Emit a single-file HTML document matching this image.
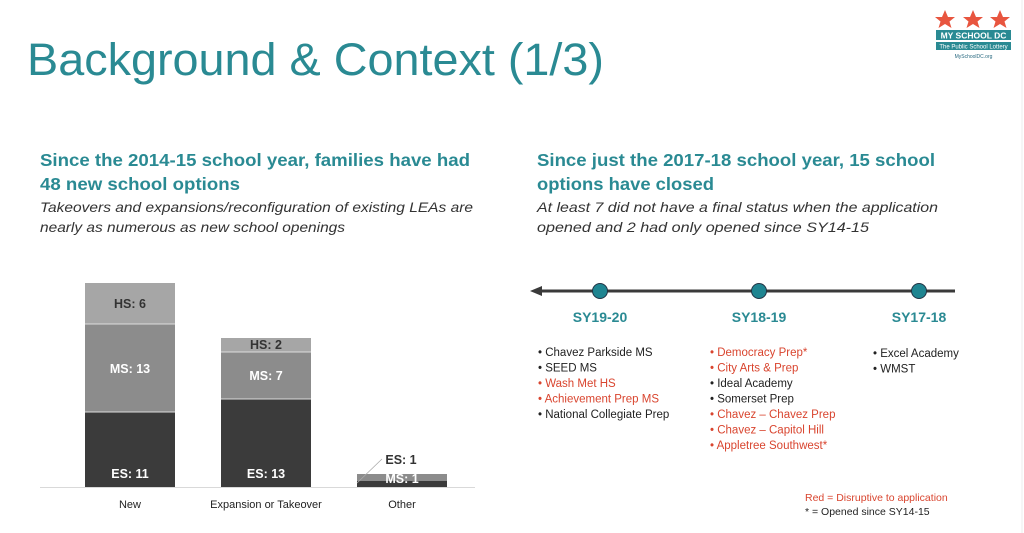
<!DOCTYPE html>
<html><head><meta charset="utf-8"><style>
html,body{margin:0;padding:0;background:#fff;width:1024px;height:533px;overflow:hidden}
svg{display:block}
text{font-family:"Liberation Sans",sans-serif}
</style></head><body>
<svg width="1024" height="533" viewBox="0 0 1024 533" xmlns="http://www.w3.org/2000/svg">
<rect width="1024" height="533" fill="#fff"/>
<line x1="1022" y1="0" x2="1022" y2="533" stroke="#eee" stroke-width="1"/>
<text x="27" y="75" font-size="45" fill="#2a8a93" textLength="577" lengthAdjust="spacingAndGlyphs">Background &amp; Context (1/3)</text>

<g fill="#e8553f">
<polygon points="945,10 948,17 955,17 949.5,21.5 951.5,28 945,24 938.5,28 940.5,21.5 935,17 942,17"/>
<polygon points="973,10 976,17 983,17 977.5,21.5 979.5,28 973,24 966.5,28 968.5,21.5 963,17 970,17"/>
<polygon points="1000,10 1003,17 1010,17 1004.5,21.5 1006.5,28 1000,24 993.5,28 995.5,21.5 990,17 997,17"/>
</g>
<rect x="936" y="30" width="75" height="10" fill="#2a8a93"/>
<text x="973.5" y="38.5" font-size="8.5" font-weight="bold" fill="#fff" text-anchor="middle">MY SCHOOL DC</text>
<rect x="936" y="42" width="75" height="8" fill="#2a8a93"/>
<text x="973.5" y="48.5" font-size="6" fill="#fff" text-anchor="middle">The Public School Lottery</text>
<text x="973.5" y="58" font-size="5" fill="#2a6a80" text-anchor="middle">MySchoolDC.org</text>

<g font-weight="bold" font-size="17.5" fill="#2a8a93">
<text x="40" y="166" textLength="430" lengthAdjust="spacingAndGlyphs">Since the 2014-15 school year, families have had</text>
<text x="40" y="190" textLength="200" lengthAdjust="spacingAndGlyphs">48 new school options</text>
<text x="537" y="166" textLength="398" lengthAdjust="spacingAndGlyphs">Since just the 2017-18 school year, 15 school</text>
<text x="537" y="190" textLength="177" lengthAdjust="spacingAndGlyphs">options have closed</text>
</g>
<g font-style="italic" font-size="14" fill="#333">
<text x="40" y="212" textLength="433" lengthAdjust="spacingAndGlyphs">Takeovers and expansions/reconfiguration of existing LEAs are</text>
<text x="40" y="232" textLength="305" lengthAdjust="spacingAndGlyphs">nearly as numerous as new school openings</text>
<text x="537" y="212" textLength="401" lengthAdjust="spacingAndGlyphs">At least 7 did not have a final status when the application</text>
<text x="537" y="232" textLength="332" lengthAdjust="spacingAndGlyphs">opened and 2 had only opened since SY14-15</text>
</g>

<rect x="85" y="283" width="90" height="41" fill="#a6a6a6"/>
<rect x="85" y="324" width="90" height="88" fill="#8c8c8c"/>
<rect x="85" y="412" width="90" height="75" fill="#3b3b3b"/>
<line x1="85" y1="324" x2="175" y2="324" stroke="#ddd" stroke-width="1"/>
<line x1="85" y1="412" x2="175" y2="412" stroke="#ddd" stroke-width="1"/>
<rect x="221" y="338" width="90" height="14" fill="#a6a6a6"/>
<rect x="221" y="352" width="90" height="47" fill="#8c8c8c"/>
<rect x="221" y="399" width="90" height="88" fill="#3b3b3b"/>
<line x1="221" y1="352" x2="311" y2="352" stroke="#ddd" stroke-width="1"/>
<line x1="221" y1="399" x2="311" y2="399" stroke="#ddd" stroke-width="1"/>
<rect x="357" y="474" width="90" height="7" fill="#8c8c8c"/>
<rect x="357" y="481" width="90" height="6" fill="#3b3b3b"/>
<line x1="40" y1="487.5" x2="475" y2="487.5" stroke="#d9d9d9" stroke-width="1"/>
<g font-weight="bold" font-size="12.5" text-anchor="middle">
<text x="130" y="308" fill="#333">HS: 6</text>
<text x="130" y="373" fill="#fff">MS: 13</text>
<text x="130" y="478" fill="#fff">ES: 11</text>
<text x="266" y="349" fill="#333">HS: 2</text>
<text x="266" y="380" fill="#fff">MS: 7</text>
<text x="266" y="478" fill="#fff">ES: 13</text>
<text x="402" y="483" fill="#fff">MS: 1</text>
<text x="401" y="464" fill="#333">ES: 1</text>
</g>
<line x1="357" y1="483" x2="382" y2="459" stroke="#aaa" stroke-width="0.8"/>
<g font-size="11" fill="#222" text-anchor="middle">
<text x="130" y="508">New</text>
<text x="266" y="508">Expansion or Takeover</text>
<text x="402" y="508">Other</text>
</g>

<line x1="538" y1="291" x2="955" y2="291" stroke="#3a3a3a" stroke-width="3"/>
<polygon points="530,291 542,286 542,296" fill="#3a3a3a"/>
<g fill="#1f8591" stroke="#234" stroke-width="1">
<circle cx="600" cy="291" r="7.5"/>
<circle cx="759" cy="291" r="7.5"/>
<circle cx="919" cy="291" r="7.5"/>
</g>
<g font-weight="bold" font-size="14" fill="#2a8a93" text-anchor="middle">
<text x="600" y="322">SY19-20</text>
<text x="759" y="322">SY18-19</text>
<text x="919" y="322">SY17-18</text>
</g>
<g font-size="11.5">
<text x="538" y="356" fill="#222">•  Chavez Parkside MS</text>
<text x="538" y="371.5" fill="#222">•  SEED MS</text>
<text x="538" y="387" fill="#d9452f">•  Wash Met HS</text>
<text x="538" y="402.5" fill="#d9452f">•  Achievement Prep MS</text>
<text x="538" y="418" fill="#222">•  National Collegiate Prep</text>
<text x="710" y="356" fill="#d9452f">•  Democracy Prep*</text>
<text x="710" y="371.5" fill="#d9452f">•  City Arts &amp; Prep</text>
<text x="710" y="387" fill="#222">•  Ideal Academy</text>
<text x="710" y="402.5" fill="#222">•  Somerset Prep</text>
<text x="710" y="418" fill="#d9452f">•  Chavez – Chavez Prep</text>
<text x="710" y="433.5" fill="#d9452f">•  Chavez – Capitol Hill</text>
<text x="710" y="449" fill="#d9452f">•  Appletree Southwest*</text>
<text x="873" y="357" fill="#222">•  Excel Academy</text>
<text x="873" y="372.5" fill="#222">•  WMST</text>
<text x="805" y="501" fill="#d9452f" font-size="10.5">Red = Disruptive to application</text>
<text x="805" y="515" fill="#222" font-size="10.5">* = Opened since SY14-15</text>
</g>
</svg>
</body></html>
